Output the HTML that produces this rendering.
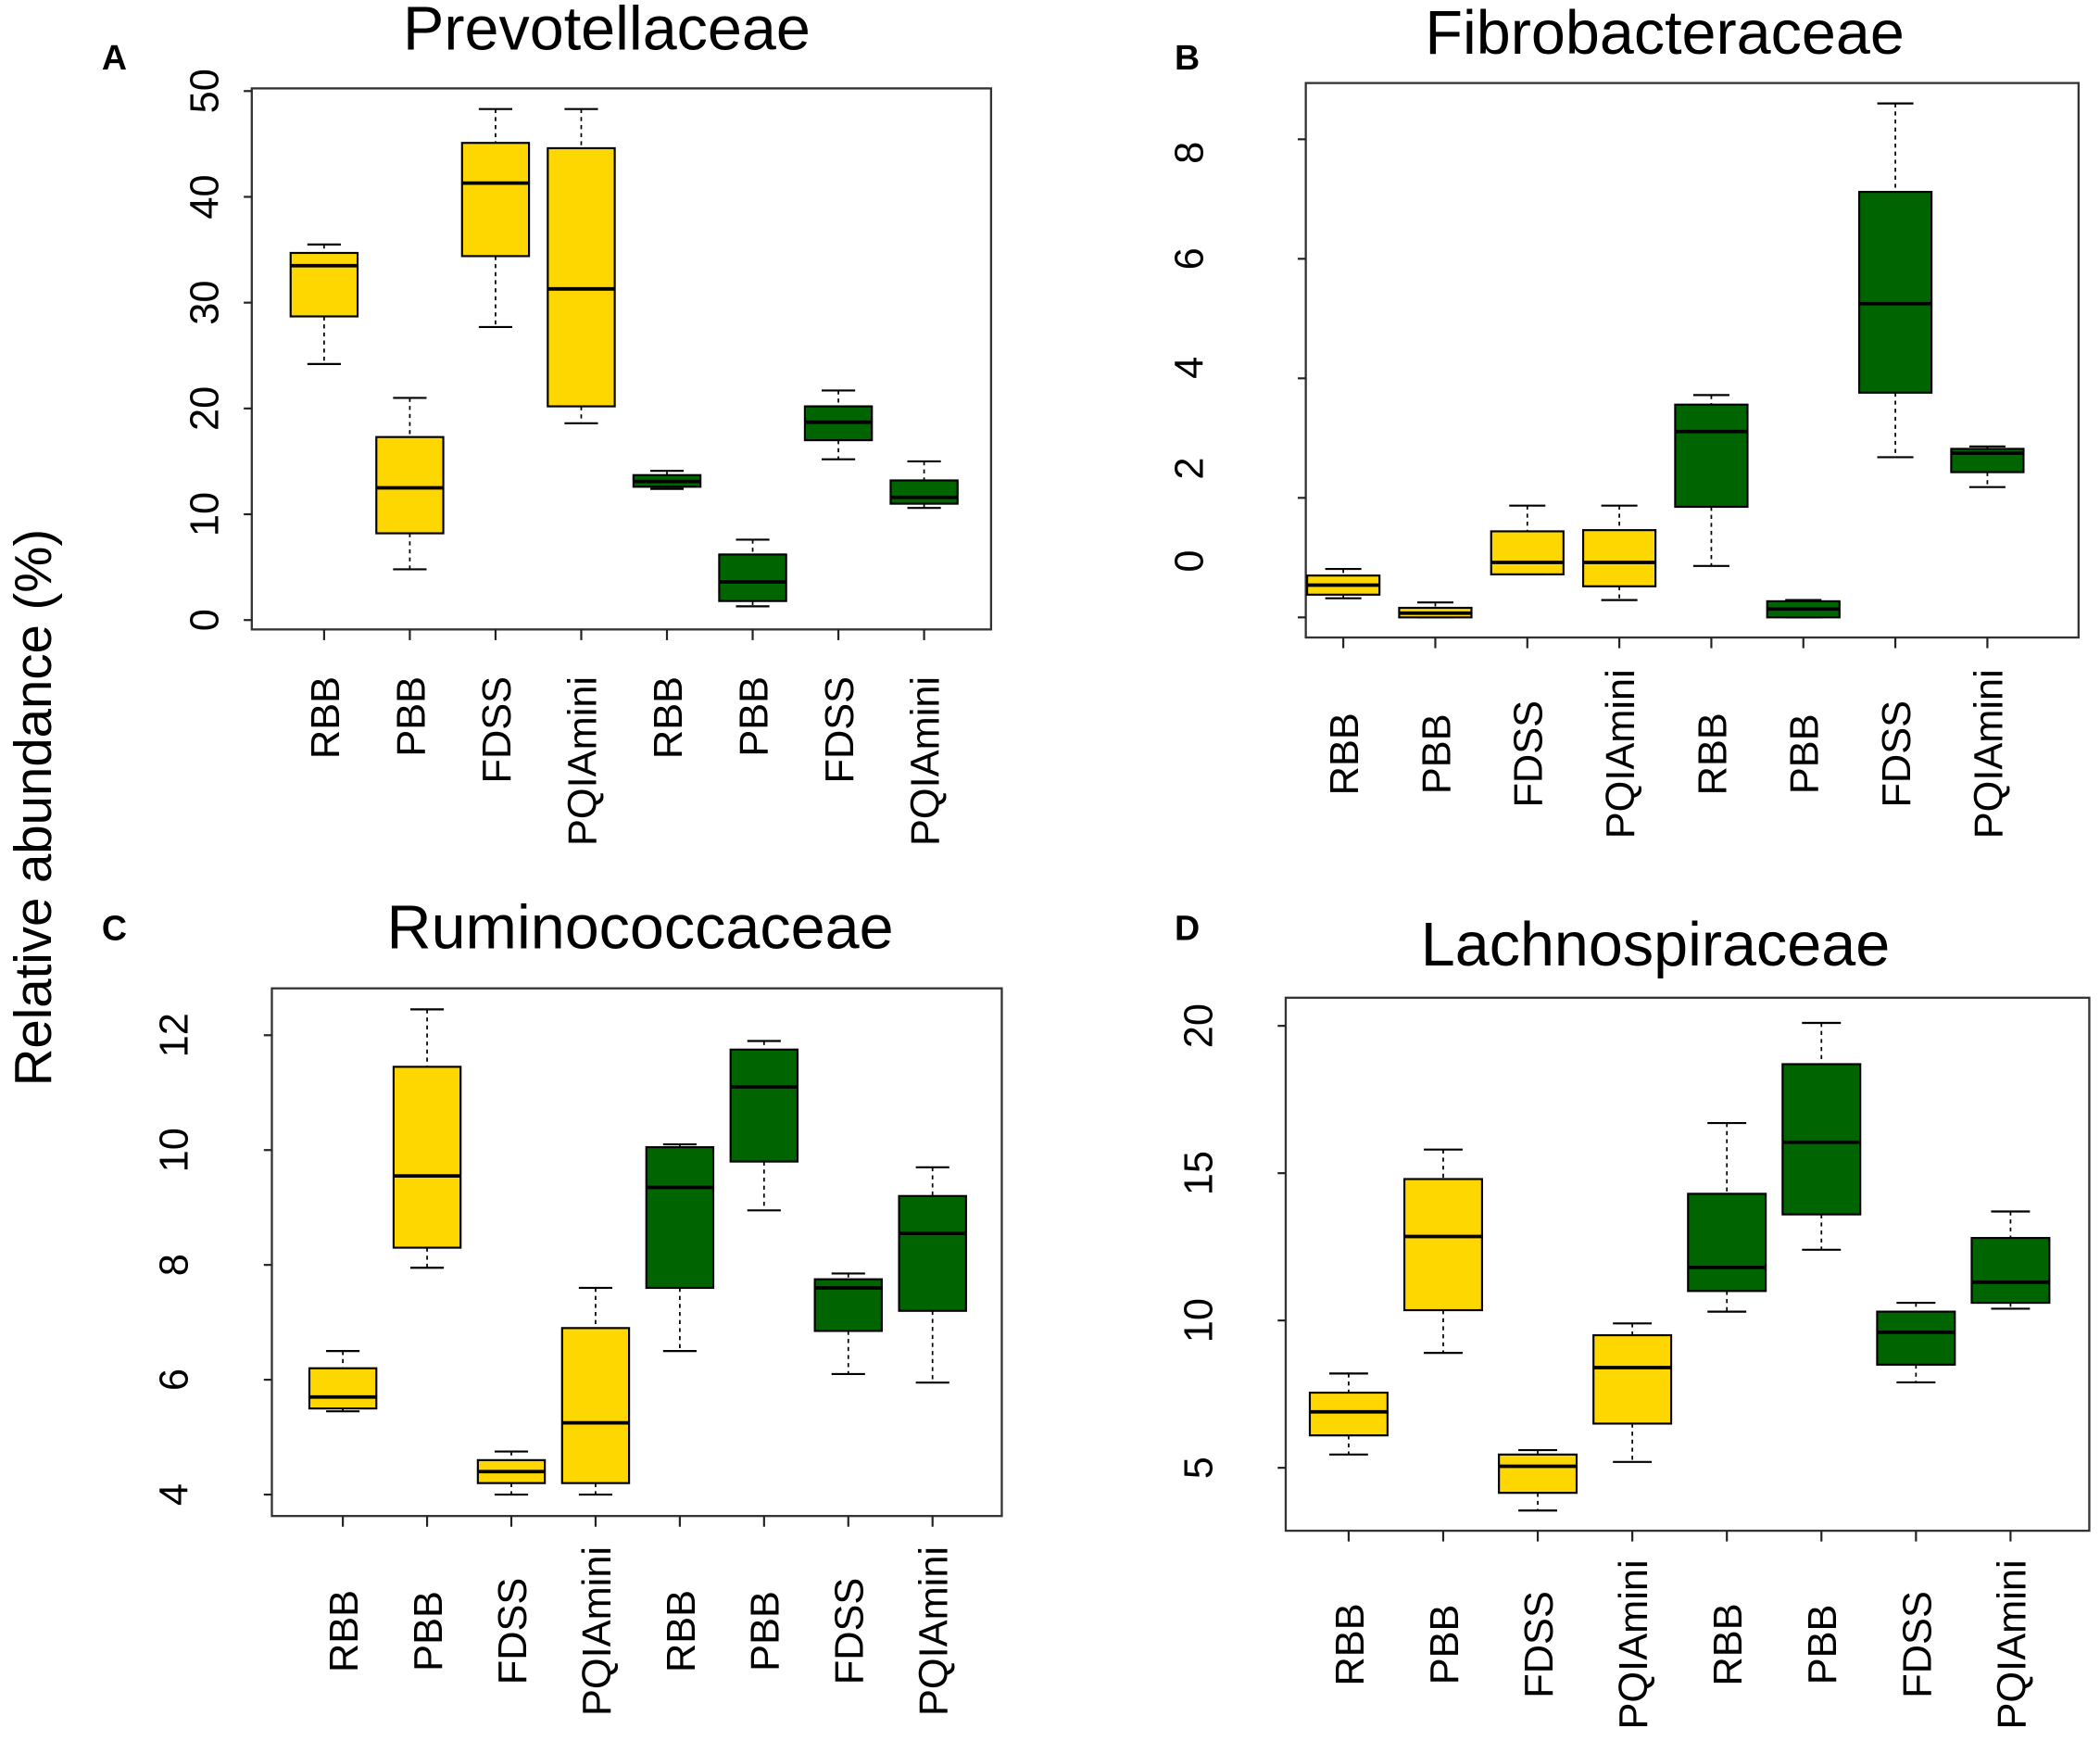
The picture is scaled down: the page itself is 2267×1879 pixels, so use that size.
<!DOCTYPE html>
<html><head><meta charset="utf-8"><style>
html,body{margin:0;padding:0;background:#fff}
svg{display:block}
text{font-family:"Liberation Sans",Arial,sans-serif;fill:#000}
</style></head><body>
<svg id="chart" width="2267" height="1879" viewBox="0 0 1568 1300" preserveAspectRatio="none" xmlns="http://www.w3.org/2000/svg">
<text transform="translate(38,603) rotate(-90)" text-anchor="middle" font-size="39">Relative abundance (%)</text>
</svg>
<script>
const categories = ["RBB","PBB","FDSS","PQIAmini","RBB","PBB","FDSS","PQIAmini"];
const groupColors = ["#FFD700","#FFD700","#FFD700","#FFD700","#006400","#006400","#006400","#006400"];

const aMin = [24.2, 4.8, 27.7, 18.6, 12.4, 1.3, 15.2, 10.6];
const aQ1  = [28.7, 8.2, 34.4, 20.2, 12.6, 1.8, 17.0, 11.0];
const aMed = [33.5, 12.5, 41.3, 31.3, 13.1, 3.6, 18.7, 11.6];
const aQ3  = [34.7, 17.3, 45.1, 44.6, 13.7, 6.2, 20.2, 13.2];
const aMax = [35.5, 21.0, 48.3, 48.3, 14.1, 7.6, 21.7, 15.0];
const aTicks = [0, 10, 20, 30, 40, 50];

const bMin = [0.32, 0.0, 0.72, 0.29, 0.86, 0.0, 2.68, 2.18];
const bQ1  = [0.38, 0.0, 0.72, 0.52, 1.85, 0.0, 3.76, 2.43];
const bMed = [0.54, 0.07, 0.92, 0.92, 3.11, 0.14, 5.25, 2.75];
const bQ3  = [0.70, 0.16, 1.44, 1.46, 3.56, 0.27, 7.12, 2.82];
const bMax = [0.81, 0.25, 1.87, 1.87, 3.72, 0.29, 8.6, 2.86];
const bTicks = [0, 2, 4, 6, 8];

const cMin = [5.45, 7.95, 4.0, 4.0, 6.5, 8.95, 6.1, 5.95];
const cQ1  = [5.5, 8.3, 4.2, 4.2, 7.6, 9.8, 6.85, 7.2];
const cMed = [5.7, 9.55, 4.4, 5.25, 9.35, 11.1, 7.6, 8.55];
const cQ3  = [6.2, 11.45, 4.6, 6.9, 10.05, 11.75, 7.75, 9.2];
const cMax = [6.5, 12.45, 4.75, 7.6, 10.1, 11.9, 7.85, 9.7];
const cTicks = [4, 6, 8, 10, 12];

const dMin = [5.45, 8.9, 3.55, 5.2, 10.3, 12.4, 7.9, 10.4];
const dQ1  = [6.1, 10.35, 4.15, 6.5, 11.0, 13.6, 8.5, 10.6];
const dMed = [6.9, 12.85, 5.05, 8.4, 11.8, 16.05, 9.6, 11.3];
const dQ3  = [7.55, 14.8, 5.45, 9.5, 14.3, 18.7, 10.3, 12.8];
const dMax = [8.2, 15.8, 5.6, 9.9, 16.7, 20.1, 10.6, 13.7];
const dTicks = [5, 10, 15, 20];

const NS = "http://www.w3.org/2000/svg";
const svg = document.getElementById("chart");
function mk(tag, attrs, parent){const e=document.createElementNS(NS,tag);for(const k in attrs)e.setAttribute(k,attrs[k]);(parent||svg).appendChild(e);return e;}

const panels = [
 {id:"a",title:"Prevotellaceae",letter:"A",lx:76,ly:52,tx:453,ty:37,box:[188,66,740,470],v0:0,y0:463,v1:50,y1:68,x0:242,dx:64,bw:50,tickLabelX:163,labY:505,anchor:"end",
  mn:aMin,q1:aQ1,md:aMed,q3:aQ3,mx:aMax,ticks:aTicks},
 {id:"b",title:"Fibrobacteraceae",letter:"B",lx:877,ly:52,tx:1243,ty:40,box:[975,62,1552,476],v0:0,y0:461,v1:8,y1:104,x0:1003,dx:68.7,bw:54,tickLabelX:898,labY:563,anchor:"middle",
  mn:bMin,q1:bQ1,md:bMed,q3:bQ3,mx:bMax,ticks:bTicks,labShift:[-42,-22,-8,0,10]},
 {id:"c",title:"Ruminococcaceae",letter:"C",lx:76,ly:702,tx:478,ty:708,box:[203,738,748,1132],v0:4,y0:1116,v1:12,y1:773,x0:256,dx:62.9,bw:50,tickLabelX:140,labY:1218,anchor:"middle",
  mn:cMin,q1:cQ1,md:cMed,q3:cQ3,mx:cMax,ticks:cTicks},
 {id:"d",title:"Lachnospiraceae",letter:"D",lx:877,ly:702,tx:1236,ty:721,box:[960,745,1560,1143],v0:5,y0:1096,v1:20,y1:766,x0:1007,dx:70.6,bw:58,tickLabelX:905,labY:1228,anchor:"middle",
  mn:dMin,q1:dQ1,md:dMed,q3:dQ3,mx:dMax,ticks:dTicks}
];

panels.forEach(p=>{
 const g = mk("g",{});
 
 
 const yS = v => p.y0 + (v-p.v0)*(p.y1-p.y0)/(p.v1-p.v0);
 const xS = i => p.x0 + i*p.dx;
 const t = mk("text",{x:p.tx,y:p.ty,"text-anchor":"middle","font-size":46},g);
 t.textContent=p.title;
 
 
 const L = mk("text",{x:p.lx,y:p.ly,"font-size":26,"font-weight":"bold"},g);
 L.textContent=p.letter;
 
 
 const [bx0,by0,bx1,by1]=p.box;
 const fr = mk("rect",{x:bx0,y:by0,width:bx1-bx0,height:by1-by0,fill:"none",stroke:"#333","stroke-width":1.6},g);
 
 
 p.ticks.forEach((v,k)=>{
  const y=yS(v);
  mk("line",{x1:bx0-6,x2:bx0,y1:y,y2:y,stroke:"#222","stroke-width":1.5},g);
  const sh = p.labShift? p.labShift[k]:0;
  const tl = mk("text",{transform:`translate(${p.tickLabelX},${y+sh}) rotate(-90)`,"text-anchor":"middle","font-size":30},g);
  tl.textContent=v;
  
  
 });
 categories.forEach((c,i)=>{
  const x=xS(i), w=p.bw;
  mk("line",{x1:x,x2:x,y1:by1,y2:by1+8,stroke:"#222","stroke-width":1.5},g);
  const cl = mk("text",{transform:`translate(${x+11},${p.labY}) rotate(-90)`,"text-anchor":p.anchor,"font-size":30},g);
  cl.textContent=c;
  
  
  const bg = mk("g",{},g);
  
  
  mk("line",{x1:x,x2:x,y1:yS(p.mx[i]),y2:yS(p.q3[i]),stroke:"#000","stroke-width":1.2,"stroke-dasharray":"3,3"},bg);
  mk("line",{x1:x,x2:x,y1:yS(p.q1[i]),y2:yS(p.mn[i]),stroke:"#000","stroke-width":1.2,"stroke-dasharray":"3,3"},bg);
  mk("line",{x1:x-w/4,x2:x+w/4,y1:yS(p.mx[i]),y2:yS(p.mx[i]),stroke:"#000","stroke-width":1.5},bg);
  mk("line",{x1:x-w/4,x2:x+w/4,y1:yS(p.mn[i]),y2:yS(p.mn[i]),stroke:"#000","stroke-width":1.5},bg);
  const top=yS(p.q3[i]), bot=yS(p.q1[i]);
  mk("rect",{x:x-w/2,y:top,width:w,height:Math.max(bot-top,1),fill:groupColors[i],stroke:"#000","stroke-width":1.5},bg);
  mk("line",{x1:x-w/2,x2:x+w/2,y1:yS(p.md[i]),y2:yS(p.md[i]),stroke:"#000","stroke-width":2.6},bg);
 });
});
</script>
</body></html>
